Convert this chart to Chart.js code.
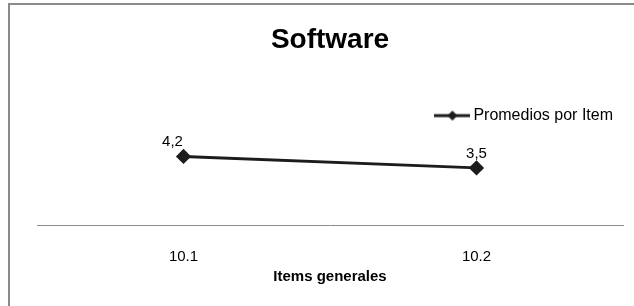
<!DOCTYPE html>
<html>
<head>
<meta charset="utf-8">
<script src="https://cdn.jsdelivr.net/npm/chart.js@4"></script>
<style>
  html, body { margin: 0; padding: 0; background: #fff; }
  #frame {
    position: absolute; left: 8px; top: 3px; width: 626px; height: 303px;
    border-left: 2px solid #8a8a8a; border-top: 2px solid #8a8a8a;
  }
  #wrap { position: absolute; left: 0; top: 0; width: 624px; height: 301px; }
</style>
</head>
<body>
<div id="frame"><div id="wrap"><canvas id="c"></canvas></div></div>
<script>
// ── datos ──
const categorias = ['10.1', '10.2'];
const promedios  = [4.2, 3.5];
const etiquetas  = ['4,2', '3,5'];
const serieNombre = 'Promedios por Item';

const FONT = "'Liberation Sans', Arial, sans-serif";
const INK  = '#1c1c1c';

// legend marker: line with a diamond in the middle
function legendMarker() {
    const cv = document.createElement('canvas');
    cv.width = 36; cv.height = 12;
    const g = cv.getContext('2d');
    g.strokeStyle = INK; g.lineWidth = 3;
    g.beginPath(); g.moveTo(0, 6); g.lineTo(36, 6); g.stroke();
    g.fillStyle = INK;
    g.beginPath(); g.moveTo(18, 1); g.lineTo(23, 6); g.lineTo(18, 11); g.lineTo(13, 6); g.closePath(); g.fill();
    return cv;
}

// value labels above points
const dataLabels = {
    id: 'dataLabels',
    afterDatasetsDraw(chart, args, opts) {
        const { ctx } = chart;
        const meta = chart.getDatasetMeta(0);
        ctx.save();
        ctx.font = '15px ' + FONT;
        ctx.fillStyle = '#000';
        ctx.textAlign = 'center';
        ctx.textBaseline = 'bottom';
        meta.data.forEach((pt, i) => {
            const dx = (opts.shiftX || [])[i] || 0;
            ctx.fillText(etiquetas[i], pt.x + dx, pt.y - 7);
        });
        ctx.restore();
    }
};

new Chart(document.getElementById('c'), {
    type: 'line',
    data: {
        labels: categorias,
        datasets: [{
            label: serieNombre,
            data: promedios,
            borderColor: INK,
            backgroundColor: INK,
            borderWidth: 3,
            pointStyle: 'rectRot',
            pointRadius: 5.5,
            pointHoverRadius: 5.5,
            tension: 0
        }]
    },
    options: {
        responsive: true, maintainAspectRatio: false,
        animation: false,
        layout: { padding: { left: 27, right: 11, top: 0, bottom: 20 } },
        plugins: {
            title: {
                display: true, text: 'Software', color: '#000',
                font: { family: FONT, size: 28, weight: 'bold' },
                padding: { top: 18, bottom: 41 }
            },
            legend: {
                display: true, position: 'top', align: 'end',
                labels: {
                    usePointStyle: true, pointStyleWidth: 26,
                    padding: 10, color: '#000',
                    font: { family: FONT, size: 16 },
                    generateLabels: chart => [{
                        text: serieNombre, pointStyle: legendMarker(),
                        fillStyle: INK, strokeStyle: INK, lineWidth: 0,
                        datasetIndex: 0, hidden: false
                    }]
                }
            },
            tooltip: { enabled: false },
            dataLabels: { shiftX: [-11, 0] }
        },
        scales: {
            x: {
                offset: true,
                grid: { display: false, drawTicks: false },
                border: { display: true, color: '#8c8c8c', width: 1 },
                ticks: { color: '#000', padding: 23, font: { family: FONT, size: 15 } },
                title: {
                    display: true, text: 'Items generales', color: '#000',
                    font: { family: FONT, size: 15, weight: 'bold' },
                    padding: { top: -21, bottom: 0 }
                }
            },
            y: {
                display: false,
                min: 0, max: 5.6
            }
        }
    },
    plugins: [dataLabels]
});
</script>
</body>
</html>
